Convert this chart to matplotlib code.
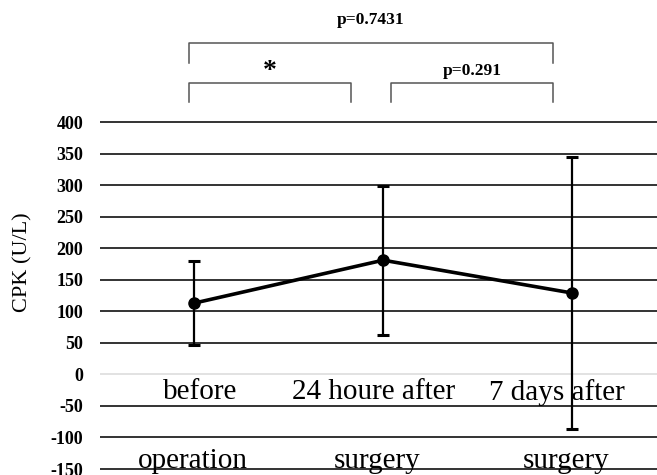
import matplotlib
matplotlib.use("Agg")
from matplotlib import pyplot as plt
from matplotlib import transforms
import numpy as np

# values
groups_top = ["before", "24 houre after", "7 days after"]
groups_bottom = ["operation", "surgery", "surgery"]
cpk_mean = [113, 181, 129]
cpk_sd = [66, 118, 215]
yticks = list(range(-150, 401, 50))

# significance brackets: (x from, x to, label)
brackets = [(-0.03, 1.9, "p=0.7431"), (-0.03, 0.83, "*"), (1.04, 1.9, "p=0.291")]

plt.rcParams["font.family"] = ["Liberation Serif", "DejaVu Serif"]
plt.rcParams["axes.unicode_minus"] = False

fig = plt.figure(figsize=(6.57, 4.75), dpi=100)
ax = fig.add_axes([0.152, 0.0086, 0.848, 0.7385])

x = np.arange(len(cpk_mean))
ax.errorbar(x, cpk_mean, yerr=cpk_sd, fmt="none", ecolor="black",
            elinewidth=1.6, capsize=4.5, capthick=2.2, zorder=3)
ax.plot(x, cpk_mean, color="black", lw=2.6, marker="o", markersize=8, zorder=4)

ax.set_xlim(-0.5, 2.45)
ax.set_ylim(-153, 403)
ax.set_yticks(yticks)
ax.set_xticks([])
ax.tick_params(axis="y", length=0, pad=12)
for lab in ax.get_yticklabels():
    lab.set_fontweight("bold")
    lab.set_fontsize(13)
for s in ax.spines.values():
    s.set_visible(False)

ax.grid(axis="y", color="#111111", lw=1.2, zorder=1)
for val, gl in zip(yticks, ax.yaxis.get_gridlines()):
    if val == 0:
        gl.set_color("#dddddd")

ax.set_ylabel("CPK (U/L)", fontsize=16)
ax.yaxis.set_label_coords(-0.138, 0.595)
ax.yaxis.label.set_va("center")

# category labels drawn inside the plot area
top_x = [0.03, 0.95, 1.92]
bot_x = [-0.01, 0.97, 1.97]
for xi, t in zip(top_x, groups_top):
    ax.text(xi, -28, t, ha="center", va="center", fontsize=21, zorder=5)
for xi, t in zip(bot_x, groups_bottom):
    ax.text(xi, -137, t, ha="center", va="center", fontsize=21, zorder=5)

# brackets above the plot
trans = transforms.blended_transform_factory(ax.transData, ax.transAxes)
levels = [(1.220, 1.163, 1.286), (1.105, 1.051, 1.140), (1.105, 1.051, 1.140)]
for (x0, x1, txt), (ytop, ybot, ytxt) in zip(brackets, levels):
    ax.plot([x0, x0, x1, x1], [ybot, ytop, ytop, ybot], color="#555555",
            lw=1.1, transform=trans, clip_on=False)
    size = 20 if txt == "*" else 12.5
    ax.text((x0 + x1) / 2, ytxt, txt, ha="center",
            va="center", fontsize=size, fontweight="bold", transform=trans)

fig.savefig("out.png", dpi=100)
